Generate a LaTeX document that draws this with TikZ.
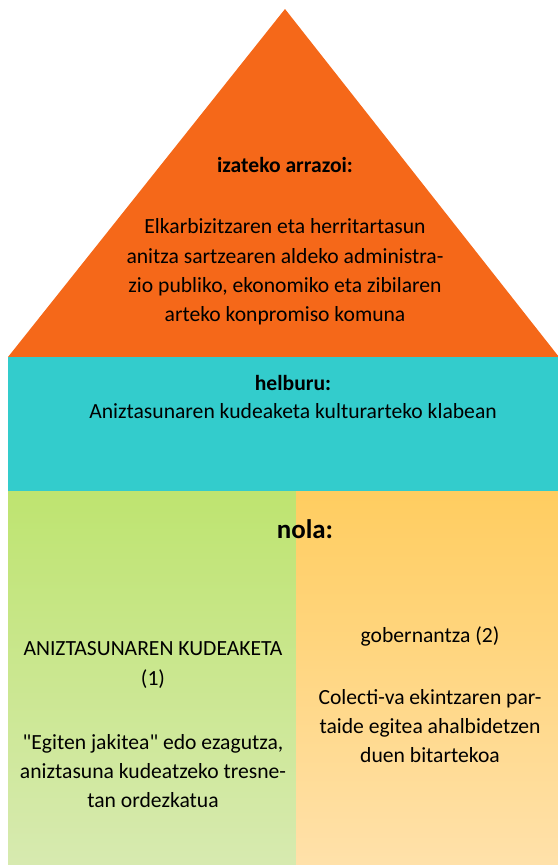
\documentclass[tikz,border=0pt]{standalone}
\usepackage{fontspec}
\setmainfont{Carlito}[Ligatures=TeXOff]
\usepackage{tikz}
\definecolor{roof}{RGB}{245,104,25}
\definecolor{band}{RGB}{51,204,204}
\definecolor{greentop}{RGB}{190,228,112}
\definecolor{greenbot}{RGB}{215,234,176}
\definecolor{orangetop}{RGB}{255,205,96}
\definecolor{orangebot}{RGB}{255,225,170}

\begin{document}
\begin{tikzpicture}[x=1bp,y=-1bp,
	every node/.style={align=center,inner sep=0pt,font=\fontsize{21.7}{29.5}\selectfont}]
	\useasboundingbox (0,0) rectangle (558,865);
	% house
	\fill[roof] (8,357) -- (285,9) -- (559,357) -- cycle;
	\fill[band] (8,357) rectangle (558,491);
	\shade[top color=greentop,bottom color=greenbot] (8,491) rectangle (296,865);
	\shade[top color=orangetop,bottom color=orangebot] (296,491) rectangle (558,865);
	% roof
	\node (reason) at (285,165) {\textbf{izateko arrazoi:}};
	\node (reasontext) at (285,272) {Elkarbizitzaren eta herritartasun\\anitza sartzearen aldeko administra-\\zio publiko, ekonomiko eta zibilaren\\arteko konpromiso komuna};
	% band
	\node (goal) at (293,383) {\textbf{helburu:}};
	\node (goaltext) at (293,411) {Aniztasunaren kudeaketa kulturarteko klabean};
	% walls
	\node[font=\fontsize{27}{30}\selectfont\bfseries] (how) at (305,529) {nola:};
	\node (left) at (153,665) {ANIZTASUNAREN KUDEAKETA\\(1)};
	\node (lefttext) at (153,771) {"Egiten jakitea" edo ezagutza,\\aniztasuna kudeatzeko tresne-\\tan ordezkatua};
	\node (right) at (430,636) {gobernantza (2)};
	\node (righttext) at (430,726) {Colecti-va ekintzaren par-\\taide egitea ahalbidetzen\\duen bitartekoa};
\end{tikzpicture}
\end{document}
